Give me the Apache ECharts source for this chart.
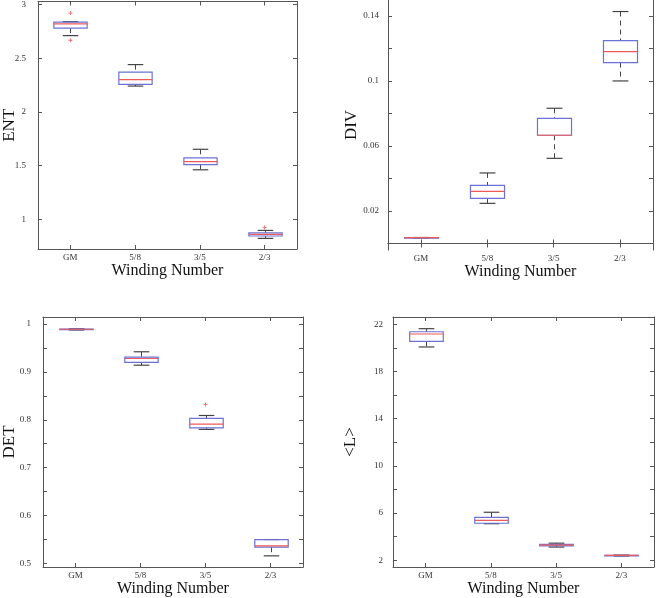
<!DOCTYPE html>
<html>
<head>
<meta charset="utf-8">
<script src="https://cdn.jsdelivr.net/npm/echarts@6/dist/echarts.min.js"></script>
<style>
html,body{margin:0;padding:0;background:#fff;}
#chart{width:660px;height:598px;}
</style>
</head>
<body>
<div id="chart"></div>
<script>
// ---- data ----
const categories = ['GM', '5/8', '3/5', '2/3'];
// each row: [lowerWhisker, q1, median, q3, upperWhisker]
const entStats = [[2.71, 2.78, 2.82, 2.836, 2.84], [2.24, 2.256, 2.30, 2.37, 2.44], [1.46, 1.509, 1.537, 1.571, 1.651], [0.821, 0.843, 0.858, 0.873, 0.895]];
const entOutliers = [[0, 2.92], [0, 2.667], [3, 0.923]];
const divStats = [[0.0034, 0.0035, 0.0036, 0.0036, 0.0037], [0.0247, 0.0278, 0.0321, 0.0358, 0.0434], [0.0524, 0.0666, 0.0666, 0.077, 0.0832], [0.1, 0.1113, 0.118, 0.1248, 0.1427]];
const divOutliers = [];
const detStats = [[0.9875, 0.988, 0.989, 0.9895, 0.990], [0.914, 0.92, 0.928, 0.931, 0.942], [0.780, 0.783, 0.791, 0.803, 0.809], [0.516, 0.534, 0.537, 0.55, 0.55]];
const detOutliers = [[2, 0.832]];
const lenStats = [[20.08, 20.56, 21.18, 21.37, 21.63], [5.1, 5.14, 5.39, 5.64, 6.07], [3.12, 3.22, 3.28, 3.34, 3.45], [2.36, 2.39, 2.41, 2.42, 2.44]];
const lenOutliers = [];
// tick labels / tick marks
const entLabels = [1, 1.5, 2, 2.5, 3];
const entTickMarks = [1, 1.5, 2, 2.5, 3];
const divLabels = [0.02, 0.06, 0.1, 0.14];
const divTickMarks = [0, 0.02, 0.04, 0.06, 0.08, 0.1, 0.12, 0.14];
const detLabels = [0.5, 0.6, 0.7, 0.8, 0.9, 1];
const detTickMarks = [0.5, 0.55, 0.6, 0.65, 0.7, 0.75, 0.8, 0.85, 0.9, 0.95, 1];
const lenLabels = [2, 6, 10, 14, 18, 22];
const lenTickMarks = [2, 4, 6, 8, 10, 12, 14, 16, 18, 20, 22];
const xName = 'Winding Number';

// ---- layout / style ----
const panels = [
  {name: 'ENT', stats: entStats, out: entOutliers, labels: entLabels, ticks: entTickMarks,
   grid: {left: 32, top: 0, width: 265, height: 249}, min: 0.722, max: 3.028, nameGap: 20, labelMargin: 12},
  {name: 'DIV', stats: divStats, out: divOutliers, labels: divLabels, ticks: divTickMarks,
   grid: {left: 388, top: 0, width: 265, height: 250}, min: -0.004, max: 0.1498, nameGap: 28, labelMargin: 9},
  {name: 'DET', stats: detStats, out: detOutliers, labels: detLabels, ticks: detTickMarks,
   grid: {left: 37, top: 317, width: 266, height: 250}, min: 0.4927, max: 1.0146, nameGap: 25, labelMargin: 12},
  {name: '<L>', stats: lenStats, out: lenOutliers, labels: lenLabels, ticks: lenTickMarks,
   grid: {left: 393, top: 317, width: 261, height: 250}, min: 1.43, max: 22.62, nameGap: 34, labelMargin: 10}
];

const FONT = '"Liberation Serif", "Times New Roman", serif';
const AXIS_COLOR = '#555';
const BOX_COLOR = '#6a72d6';
const MED_COLOR = '#ee5a5a';
const WHISK_COLOR = '#444';

function renderBox(params, api) {
  const idx = api.value(0);
  const low = api.value(1), q1 = api.value(2), med = api.value(3), q3 = api.value(4), high = api.value(5);
  const band = api.size([1, 0])[0];
  const hw = band * 0.257, cw = band * 0.12;
  const pL = api.coord([idx, low]);
  const p1 = api.coord([idx, q1]);
  const pM = api.coord([idx, med]);
  const p3 = api.coord([idx, q3]);
  const pH = api.coord([idx, high]);
  const x = Math.round(pL[0]) + 0.5;
  const dash = {stroke: WHISK_COLOR, lineWidth: 1, lineDash: [5, 4]};
  const solid = {stroke: WHISK_COLOR, lineWidth: 1.2};
  return {
    type: 'group',
    children: [
      {type: 'line', shape: {x1: x, y1: pH[1], x2: x, y2: p3[1]}, style: dash},
      {type: 'line', shape: {x1: x, y1: p1[1], x2: x, y2: pL[1]}, style: dash},
      {type: 'line', shape: {x1: x - cw, y1: pH[1], x2: x + cw, y2: pH[1]}, style: solid},
      {type: 'line', shape: {x1: x - cw, y1: pL[1], x2: x + cw, y2: pL[1]}, style: solid},
      {type: 'rect', shape: {x: x - hw, y: p3[1], width: 2 * hw, height: Math.max(p1[1] - p3[1], 0.5)},
       style: {stroke: BOX_COLOR, fill: 'rgba(255,255,255,0)', lineWidth: 1.2}},
      {type: 'line', shape: {x1: x - hw, y1: pM[1], x2: x + hw, y2: pM[1]}, style: {stroke: MED_COLOR, lineWidth: 1.2}}
    ]
  };
}

const grids = [], xAxes = [], yAxes = [], series = [];
panels.forEach((p, i) => {
  grids.push(Object.assign({containLabel: false}, p.grid));
  const lineStyle = {color: AXIS_COLOR, width: 1};
  // bottom category axis
  xAxes.push({
    type: 'category', gridIndex: i, data: categories, position: 'bottom',
    boundaryGap: true,
    axisLine: {show: true, lineStyle},
    axisTick: {show: true, inside: true, alignWithLabel: true, length: 4, lineStyle},
    axisLabel: {fontFamily: FONT, fontSize: 9, color: '#333', margin: 4},
    name: xName, nameLocation: 'middle', nameGap: 14, nameMoveOverlap: false,
    nameTextStyle: {fontFamily: FONT, fontSize: 16, color: '#111'},
    splitLine: {show: false}
  });
  // top mirror axis
  xAxes.push({
    type: 'category', gridIndex: i, data: categories, position: 'top',
    boundaryGap: true,
    axisLine: {show: true, lineStyle},
    axisTick: {show: true, inside: true, alignWithLabel: true, length: 4, lineStyle},
    axisLabel: {show: false},
    splitLine: {show: false}
  });
  yAxes.push({
    type: 'value', gridIndex: i, position: 'left', min: p.min, max: p.max,
    axisLine: {show: true, lineStyle},
    axisTick: {show: true, inside: true, length: 4, customValues: p.ticks, lineStyle},
    axisLabel: {show: true, customValues: p.labels, fontFamily: FONT, fontSize: 9, color: '#333', margin: p.labelMargin},
    splitLine: {show: false},
    name: p.name, nameLocation: 'middle', nameGap: p.nameGap, nameMoveOverlap: false,
    nameTextStyle: {fontFamily: FONT, fontSize: 17, color: '#111'}
  });
  yAxes.push({
    type: 'value', gridIndex: i, position: 'right', min: p.min, max: p.max,
    axisLine: {show: true, lineStyle},
    axisTick: {show: true, inside: true, length: 4, customValues: p.ticks, lineStyle},
    axisLabel: {show: false},
    splitLine: {show: false}
  });
  series.push({
    type: 'custom', xAxisIndex: 2 * i, yAxisIndex: 2 * i,
    renderItem: renderBox,
    encode: {x: 0, y: [1, 2, 3, 4, 5]},
    data: p.stats.map((s, k) => [k].concat(s)),
    silent: true, animation: false
  });
  if (p.out.length) {
    series.push({
      type: 'scatter', xAxisIndex: 2 * i, yAxisIndex: 2 * i,
      symbol: 'path://M2,0 H3 V2 H5 V3 H3 V5 H2 V3 H0 V2 H2 Z', symbolSize: 4,
      itemStyle: {color: '#e33'},
      data: p.out, silent: true, animation: false
    });
  }
});

const chart = echarts.init(document.getElementById('chart'), null, {renderer: 'canvas'});
chart.setOption({
  animation: false,
  backgroundColor: '#fff',
  grid: grids,
  xAxis: xAxes,
  yAxis: yAxes,
  series: series
});
</script>
</body>
</html>
